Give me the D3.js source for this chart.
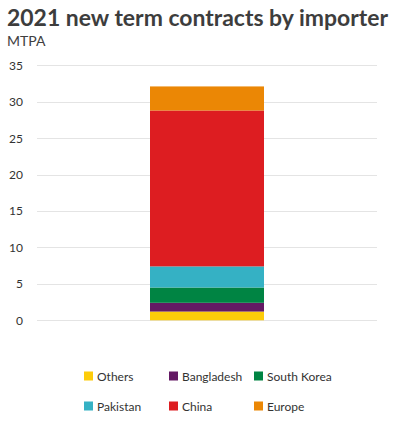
<!DOCTYPE html>
<html>
<head>
<meta charset="utf-8">
<script src="https://cdn.jsdelivr.net/npm/d3@7"></script>
<style>
  body { margin: 0; background: #fff; }
  svg { display: block; font-family: 'Lato', 'Open Sans', sans-serif; }
</style>
</head>
<body>
<svg id="chart" width="397" height="427"></svg>
<script>
const category = ['2021'];
const importers = ['Others', 'Bangladesh', 'South Korea', 'Pakistan', 'China', 'Europe'];
const volumes = [1.2, 1.2, 2.1, 2.9, 21.4, 3.3];
const colours = ['#fdcc0a', '#641964', '#008443', '#35b1c4', '#dd1d21', '#eb8705'];
const yTicks = [0, 5, 10, 15, 20, 25, 30, 35];

const svg = d3.select('#chart');

const title = svg.append('text')
  .attr('x', 7)
  .attr('y', 26)
  .attr('fill', '#3d3d3d')
  .style('font-size', '22px')
  .style('font-weight', 700)
  .text('2021 new term contracts by importer');
// squeeze to the same width as the reference title
const tw = title.node().getComputedTextLength();
title.attr('textLength', 381).attr('lengthAdjust', 'spacingAndGlyphs');

svg.append('text')
  .attr('x', 7)
  .attr('y', 46)
  .attr('fill', '#404040')
  .style('font-size', '14px')
  .text('MTPA');

const y = d3.scaleLinear().domain([0, 35]).range([320.3, 65.3]);
const x = d3.scaleBand().domain(category).range([37, 377]).paddingInner(0).paddingOuter(1.1);

// gridlines
svg.append('g')
  .selectAll('line')
  .data(yTicks)
  .join('line')
  .attr('x1', 37)
  .attr('x2', 377)
  .attr('y1', (d) => Math.round(y(d)) + 0.5)
  .attr('y2', (d) => Math.round(y(d)) + 0.5)
  .attr('stroke', '#e4e4e4')
  .attr('stroke-width', 1);

const yAxis = svg.append('g')
  .attr('transform', 'translate(23,0)')
  .call(d3.axisLeft(y).tickValues(yTicks).tickSize(0).tickPadding(0));
yAxis.select('.domain').remove();
yAxis.selectAll('text')
  .attr('fill', '#333')
  .style('font-size', '12px')
  .style('font-family', "'Lato', 'Open Sans', sans-serif");

// stacked bar
const stackData = [Object.fromEntries(importers.map((k, i) => [k, volumes[i]]))];
stackData[0].year = category[0];
const series = d3.stack().keys(importers)(stackData);
const colour = d3.scaleOrdinal().domain(importers).range(colours);

svg.append('g')
  .selectAll('rect')
  .data(series)
  .join('rect')
  .attr('x', 150)
  .attr('width', 114)
  .attr('y', (s) => y(s[0][1]))
  .attr('height', (s) => y(s[0][0]) - y(s[0][1]))
  .attr('fill', (s) => colour(s.key));

// legend
const legendX = [84, 169, 254];
const legendY = [376, 406];
const legend = svg.append('g')
  .selectAll('g')
  .data(importers)
  .join('g')
  .attr('transform', (d, i) => `translate(${legendX[i % 3]},${legendY[Math.floor(i / 3)]})`);

legend.append('rect')
  .attr('x', 0)
  .attr('y', -4.5)
  .attr('width', 9)
  .attr('height', 9)
  .attr('fill', (d) => colour(d));

legend.append('text')
  .attr('x', 13)
  .attr('y', 4.5)
  .attr('fill', '#333')
  .style('font-size', '12px')
  .text((d) => d);
</script>
</body>
</html>
